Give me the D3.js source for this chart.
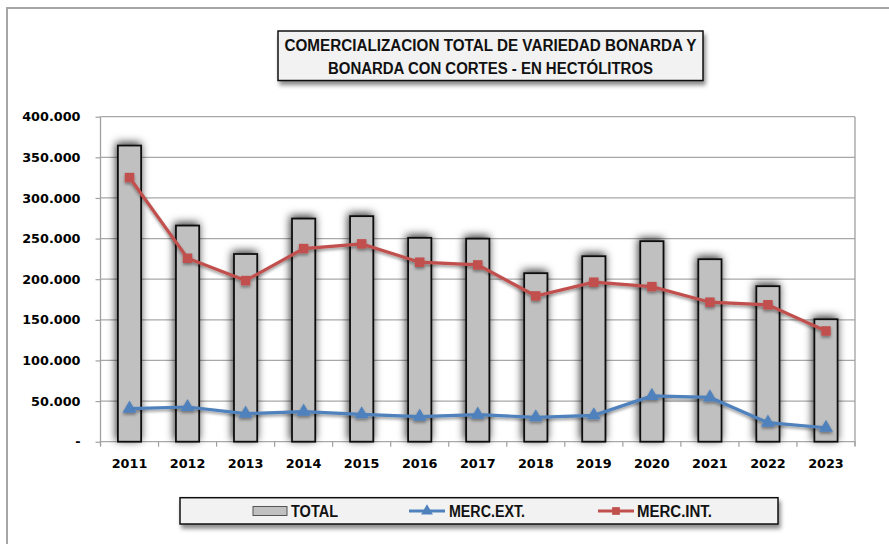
<!DOCTYPE html>
<html>
<head>
<meta charset="utf-8">
<script src="https://cdn.jsdelivr.net/npm/d3@7"></script>
<style>
    body { margin: 0; background: #fff; }
    svg { display: block; }
</style>
</head>
<body>
<svg id="chart" width="889" height="544"></svg>
<script>
// datos (hectolitros)
const years = ['2011', '2012', '2013', '2014', '2015', '2016', '2017', '2018', '2019', '2020', '2021', '2022', '2023'];
const total = [364500, 266000, 231000, 274600, 277600, 250900, 249900, 207400, 228300, 246800, 224600, 191400, 150700];
const mercExt = [40600, 42700, 34500, 37000, 33700, 30800, 33300, 30000, 32500, 56300, 54500, 23400, 17200];
const mercInt = [325100, 225800, 198300, 237700, 243500, 220900, 217600, 179400, 196300, 190900, 171700, 168500, 136300];
const yTicks = [0, 50000, 100000, 150000, 200000, 250000, 300000, 350000, 400000];
const titleLines = ['COMERCIALIZACION TOTAL DE VARIEDAD BONARDA Y', 'BONARDA CON CORTES - EN HECTÓLITROS'];
const legendLabels = ['TOTAL', 'MERC.EXT.', 'MERC.INT.'];

const svg = d3.select('#chart');
const plot = { left: 100.5, right: 855, top: 116.7, bottom: 441.7 };
const narrow = "'Liberation Sans Narrow', 'Arial Narrow', sans-serif";
const wide = "'DejaVu Sans', Verdana, sans-serif";

let x = d3.scaleBand()
    .domain(years)
    .range([plot.left, plot.right])
    .paddingInner(0.6)
    .paddingOuter(0.3);

let y = d3.scaleLinear()
    .domain([0, 400000])
    .range([plot.bottom, plot.top]);

let fmt = d => d === 0 ? '-' : d3.format(',')(d).replace(/,/g, '.');

// sombras
let defs = svg.append('defs');
function addShadow(id, dx, dy, blur, opacity) {
    defs.append('filter')
        .attr('id', id)
        .attr('x', '-50%').attr('y', '-50%')
        .attr('width', '200%').attr('height', '200%')
        .append('feDropShadow')
        .attr('dx', dx).attr('dy', dy)
        .attr('stdDeviation', blur)
        .attr('flood-color', '#000')
        .attr('flood-opacity', opacity);
}
addShadow('barShadow', -1, -2, 4, 0.8);
addShadow('lineShadow', 0, 2, 1.5, 0.4);
addShadow('boxShadow', 2, 4, 2, 0.45);

// marco exterior
svg.append('path')
    .attr('d', 'M7,560 L7,8 L900,8')
    .attr('fill', 'none')
    .attr('stroke', '#a6a6a6')
    .attr('stroke-width', 2);

// grilla y eje y
let yAxis = svg.append('g')
    .attr('transform', `translate(${plot.left},0)`)
    .call(d3.axisLeft(y).tickValues(yTicks).tickSize(5).tickFormat(fmt));
yAxis.select('.domain').remove();
yAxis.selectAll('.tick line').attr('stroke', '#a0a0a0').attr('stroke-width', 1.2);
yAxis.selectAll('.tick text')
    .attr('x', -20)
    .attr('fill', '#000')
    .style('font', `bold 12.8px ${wide}`);

svg.append('g')
    .selectAll('line')
    .data(yTicks)
    .join('line')
    .attr('x1', plot.left).attr('x2', plot.right)
    .attr('y1', d => y(d)).attr('y2', d => y(d))
    .attr('stroke', '#a8a8a8')
    .attr('stroke-width', 1.3);

svg.append('line')
    .attr('x1', plot.left).attr('x2', plot.left)
    .attr('y1', plot.top).attr('y2', plot.bottom + 4)
    .attr('stroke', '#a0a0a0').attr('stroke-width', 1.3);
svg.append('line')
    .attr('x1', plot.right).attr('x2', plot.right)
    .attr('y1', plot.top).attr('y2', plot.bottom + 4)
    .attr('stroke', '#a0a0a0').attr('stroke-width', 1.3);

// ticks del eje x entre categorias
let step = x.step();
svg.append('g')
    .selectAll('line')
    .data(d3.range(years.length + 1))
    .join('line')
    .attr('x1', i => plot.left + i * step).attr('x2', i => plot.left + i * step)
    .attr('y1', plot.bottom).attr('y2', plot.bottom + 5)
    .attr('stroke', '#a0a0a0').attr('stroke-width', 1.2);

svg.append('g')
    .selectAll('text')
    .data(years)
    .join('text')
    .attr('x', d => x(d) + x.bandwidth() / 2)
    .attr('y', 468)
    .attr('text-anchor', 'middle')
    .attr('fill', '#000')
    .style('font', `bold 12.8px ${wide}`)
    .text(d => d);

// barras TOTAL
svg.append('g')
    .attr('filter', 'url(#barShadow)')
    .selectAll('rect')
    .data(total)
    .join('rect')
    .attr('x', (d, i) => x(years[i]))
    .attr('y', d => y(d))
    .attr('width', x.bandwidth())
    .attr('height', d => y(0) - y(d))
    .attr('fill', '#c0c0c0')
    .attr('stroke', '#111')
    .attr('stroke-width', 1.8);

// lineas
let cx = i => x(years[i]) + x.bandwidth() / 2;
let line = d3.line()
    .x((d, i) => cx(i))
    .y(d => y(d));

function drawSeries(values, color, symbol, size) {
    let g = svg.append('g').attr('filter', 'url(#lineShadow)');
    g.append('path')
        .attr('d', line(values))
        .attr('fill', 'none')
        .attr('stroke', color)
        .attr('stroke-width', 3.2);
    g.selectAll('path.mark')
        .data(values)
        .join('path')
        .attr('class', 'mark')
        .attr('transform', (d, i) => `translate(${cx(i)},${y(d)})`)
        .attr('d', d3.symbol().type(symbol).size(size))
        .attr('fill', color);
}
drawSeries(mercInt, '#c0504d', d3.symbolSquare, 90);
drawSeries(mercExt, '#4f81bd', d3.symbolTriangle, 85);

// titulo
let title = svg.append('g');
title.append('rect')
    .attr('x', 278).attr('y', 31)
    .attr('width', 425).attr('height', 49.5)
    .attr('fill', '#f2f2f2')
    .attr('stroke', '#111')
    .attr('stroke-width', 1.5)
    .attr('filter', 'url(#boxShadow)');
title.selectAll('text')
    .data(titleLines)
    .join('text')
    .attr('x', 490.5)
    .attr('y', (d, i) => 51 + i * 23)
    .attr('text-anchor', 'middle')
    .attr('fill', '#111')
    .attr('textLength', (d, i) => i == 0 ? 412 : 325)
    .attr('lengthAdjust', 'spacingAndGlyphs')
    .style('font', `bold 16px ${narrow}`)
    .text(d => d);

// leyenda
let legend = svg.append('g');
legend.append('rect')
    .attr('x', 180).attr('y', 497.7)
    .attr('width', 598).attr('height', 26.3)
    .attr('fill', '#f2f2f2')
    .attr('stroke', '#111')
    .attr('stroke-width', 1.5)
    .attr('filter', 'url(#boxShadow)');

let ly = 511;
legend.append('rect')
    .attr('x', 253).attr('y', ly - 4.5)
    .attr('width', 34).attr('height', 9)
    .attr('fill', '#c0c0c0')
    .attr('stroke', '#555')
    .attr('stroke-width', 1);

[[409, '#4f81bd', d3.symbolTriangle], [598, '#c0504d', d3.symbolSquare]].forEach(function(item) {
    legend.append('line')
        .attr('x1', item[0]).attr('x2', item[0] + 36)
        .attr('y1', ly).attr('y2', ly)
        .attr('stroke', item[1]).attr('stroke-width', 3);
    legend.append('path')
        .attr('transform', `translate(${item[0] + 18},${ly})`)
        .attr('d', d3.symbol().type(item[2]).size(60))
        .attr('fill', item[1]);
});

legend.selectAll('text')
    .data(legendLabels)
    .join('text')
    .attr('x', (d, i) => [291, 449, 637][i])
    .attr('y', ly + 5.5)
    .attr('fill', '#111')
    .attr('textLength', (d, i) => [47, 76, 75][i])
    .attr('lengthAdjust', 'spacingAndGlyphs')
    .style('font', `bold 16px ${narrow}`)
    .text(d => d);
</script>
</body>
</html>
